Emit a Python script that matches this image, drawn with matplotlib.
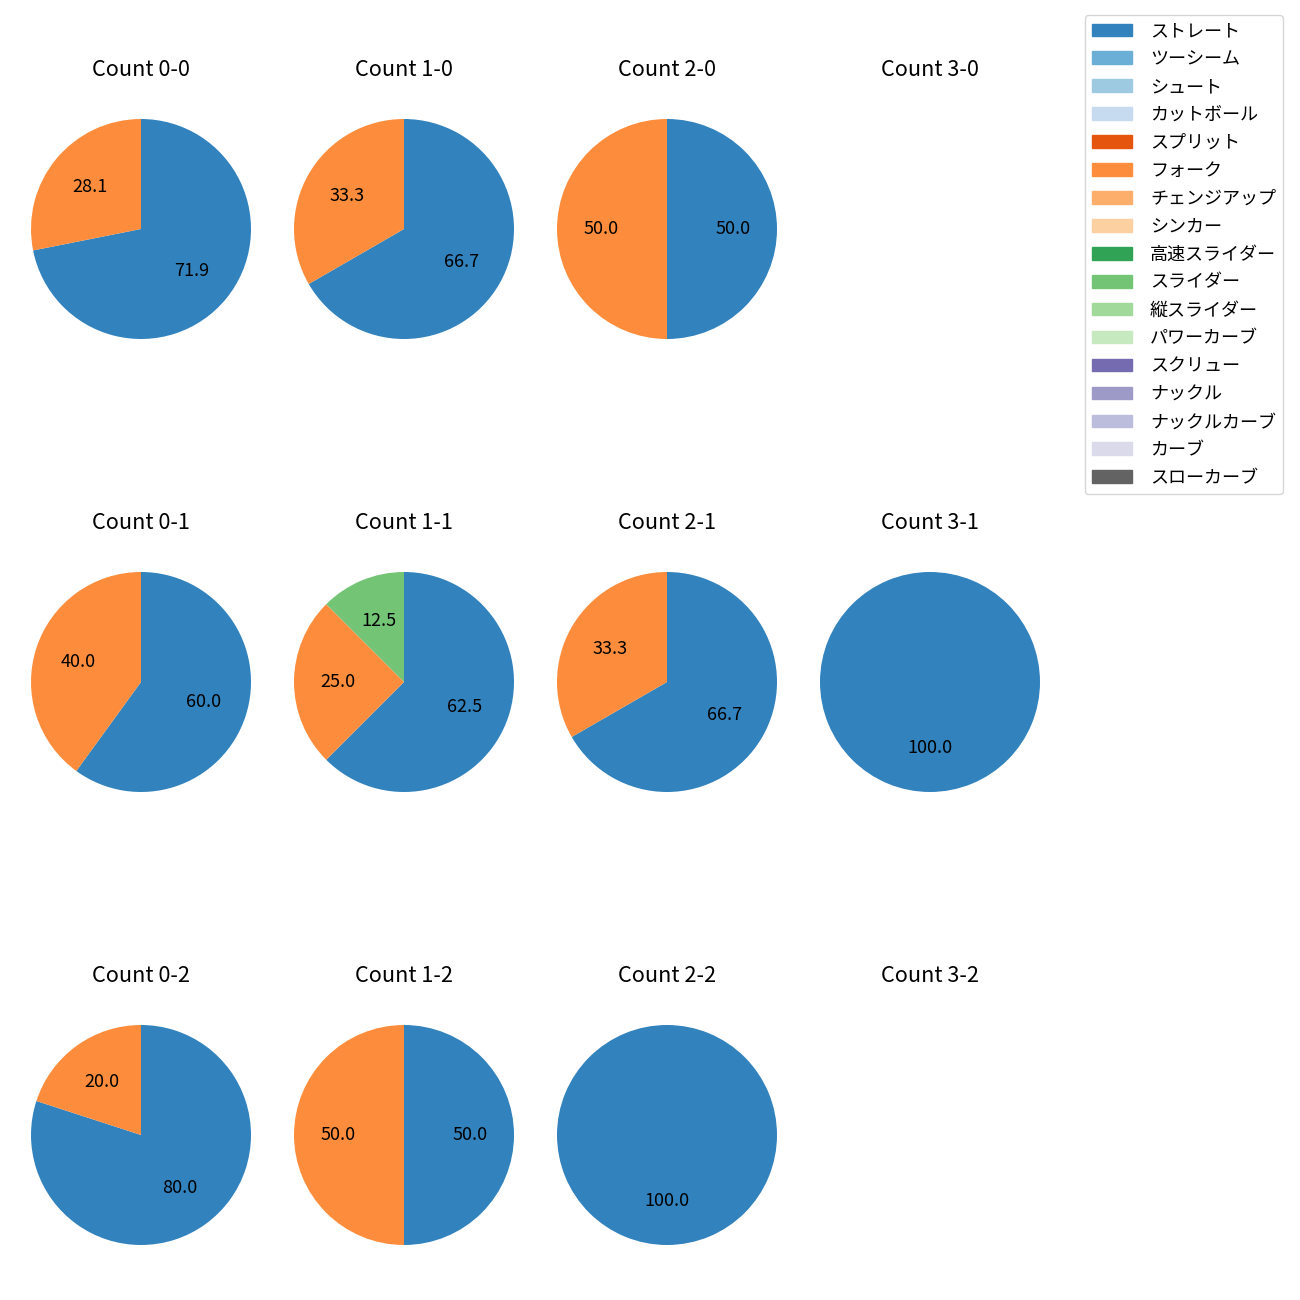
import numpy as np
import matplotlib
matplotlib.use('Agg')
import matplotlib.pyplot as plt
from matplotlib.patches import Patch

plt.rcParams['font.family'] = ['Noto Sans CJK JP', 'DejaVu Sans']
plt.rcParams['font.size'] = 13

pitch_types = ['ストレート', 'ツーシーム', 'シュート', 'カットボール', 'スプリット', 'フォーク',
               'チェンジアップ', 'シンカー', '高速スライダー', 'スライダー', '縦スライダー',
               'パワーカーブ', 'スクリュー', 'ナックル', 'ナックルカーブ', 'カーブ', 'スローカーブ']
colors = list(plt.get_cmap('tab20c').colors[:16]) + ['#636363']

# pitch counts per ball-strike count
counts_00 = {'ストレート': 23, 'フォーク': 9}
counts_10 = {'ストレート': 2, 'フォーク': 1}
counts_20 = {'ストレート': 1, 'フォーク': 1}
counts_30 = {}
counts_01 = {'ストレート': 3, 'フォーク': 2}
counts_11 = {'ストレート': 5, 'フォーク': 2, 'スライダー': 1}
counts_21 = {'ストレート': 2, 'フォーク': 1}
counts_31 = {'ストレート': 1}
counts_02 = {'ストレート': 4, 'フォーク': 1}
counts_12 = {'ストレート': 1, 'フォーク': 1}
counts_22 = {'ストレート': 1}
counts_32 = {}

grid = [[counts_00, counts_10, counts_20, counts_30],
        [counts_01, counts_11, counts_21, counts_31],
        [counts_02, counts_12, counts_22, counts_32]]

W = H = 1300
fig = plt.figure(figsize=(13, 13), dpi=100)

cx = [141, 404, 667, 930]
cy = [229, 682, 1135]
size = 275

for r in range(3):
    for c in range(4):
        left = (cx[c] - size / 2) / W
        bottom = 1 - (cy[r] + size / 2) / H
        ax = fig.add_axes([left, bottom, size / W, size / H])
        ax.set_title('Count %d-%d' % (c, r), fontsize=15.6, pad=11.5)
        d = grid[r][c]
        if not d:
            ax.axis('off')
            continue
        names = [p for p in pitch_types if p in d]
        vals = [d[p] for p in names]
        cols = [colors[pitch_types.index(p)] for p in names]
        ax.pie(vals, colors=cols, startangle=90, counterclock=False,
               autopct='%.1f', textprops={'fontsize': 13})
        ax.set_aspect('equal')

handles = [Patch(color=colors[i], label=p) for i, p in enumerate(pitch_types)]
fig.legend(handles=handles, loc='upper right', bbox_to_anchor=(0.987, 0.9885),
           borderaxespad=0, fontsize=13, labelspacing=0.55,
           handlelength=2.2, handletextpad=1.0)

fig.savefig('out.png', dpi=100)
